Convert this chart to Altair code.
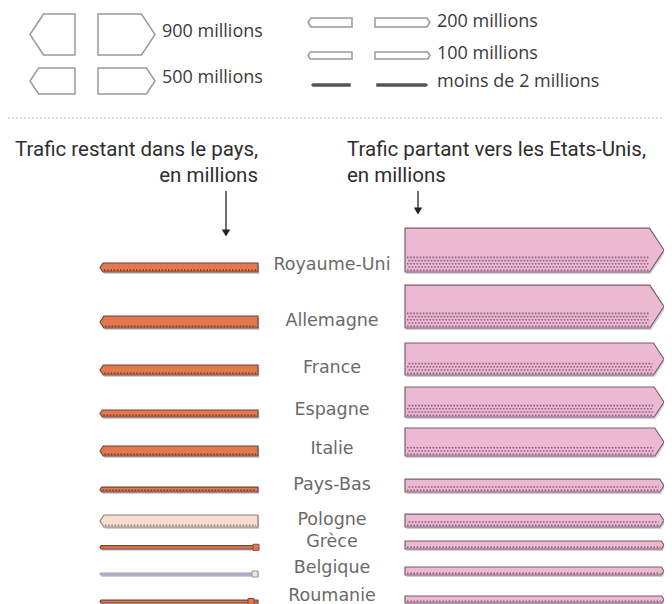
import altair as alt
import pandas as pd
import numpy as np

# ---------------- data (millions) ----------------
countries = ["Royaume-Uni", "Allemagne", "France", "Espagne", "Italie",
             "Pays-Bas", "Pologne", "Grèce", "Belgique", "Roumanie"]
domestic = [200, 253, 218, 100, 218, 60, 253, 30, 1, 20]     # trafic restant dans le pays
to_us = [980, 953, 660, 607, 553, 270, 270, 150, 150, 100]   # trafic partant vers les Etats-Unis

legend_values = [900, 500, 200, 100, 2]
legend_labels = ["900 millions", "500 millions", "200 millions", "100 millions", "moins de 2 millions"]

# ---------------- thickness scale (value -> px) ----------------
KEY_VALUES = [0, 2, 100, 200, 500, 900, 1200]
KEY_PX = [2, 2, 7, 9, 26, 41, 52]


def thick(v):
    return float(np.interp(v, KEY_VALUES, KEY_PX))


# ---------------- layout ----------------
ROW_BASE = [272, 328, 375, 417, 456, 492, 527, 549, 575, 603]
LEFT_X = (100, 258)
RIGHT_X = (405, 664)
LABEL_X = 332

PINK, PINK_EDGE, PINK_DOT = "#ecb9d3", "#7a5f6e", "#5e3a4e"
ORANGE, ORANGE_EDGE, ORANGE_DOT = "#e2784f", "#6f4536", "#4e2418"
LEFT_STYLE = {"Pologne": ("#f7ddcc", "#8a7f7c", "#7a6456"),
              "Belgique": ("#c4c0d6", "#9a97b2", "#9a97b2")}
SQUARES = {"Grèce": (256, ORANGE, "#8a4a3a"),
           "Belgique": (255, "#f3e6df", "#9a8f98"),
           "Roumanie": (251, ORANGE, "#8a4a3a")}


def arrow(gid, direction, x0, x1, top, bot, fill, stroke):
    t = bot - top
    tip = max(0.33 * t, 1.0)
    mid = (top + bot) / 2
    if direction == "right":
        pts = [(x0, top, bot), (x1 - tip, top, bot), (x1, mid, mid)]
    else:
        pts = [(x0, mid, mid), (x0 + tip, top, bot), (x1, top, bot)]
    return [dict(gid=gid, x=x, y=a, y2=b, fill=fill, stroke=stroke) for x, a, b in pts]


polys, shadows, dots, squares, labels = [], [], [], [], []
for i, c in enumerate(countries):
    base = ROW_BASE[i]
    # right arrow (to US)
    tr = thick(to_us[i])
    polys += arrow(f"r{i}", "right", RIGHT_X[0], RIGHT_X[1], base - tr, base, PINK, PINK_EDGE)
    for p in arrow(f"r{i}", "right", RIGHT_X[0], RIGHT_X[1], base - tr, base, "#9c93ab", "none"):
        p = dict(p); p["x"] += 1.2; p["y"] += 2; p["y2"] += 2
        shadows.append(p)
    tip = 0.33 * tr
    band = max(0.4 * tr, 2)
    k = 0
    while True:
        y = base - 1.8 - 3.2 * k
        if k > 0 and (y < base - band or y < base - tr + 1.5):
            break
        dots.append(dict(x=RIGHT_X[0] + 2, x2=RIGHT_X[1] - tip - 1, y=y, c=PINK_DOT, par=k % 2))
        k += 1
    # left arrow (domestic)
    tl = thick(domestic[i])
    fill, edge, dotc = LEFT_STYLE.get(c, (ORANGE, ORANGE_EDGE, ORANGE_DOT))
    polys += arrow(f"l{i}", "left", LEFT_X[0], LEFT_X[1], base - tl, base, fill, edge)
    for p in arrow(f"l{i}", "left", LEFT_X[0], LEFT_X[1], base - tl, base, "#8d92c2", "none"):
        p = dict(p); p["x"] += 1.2; p["y"] += 2; p["y2"] += 2
        shadows.append(p)
    if tl >= 4:
        dots.append(dict(x=LEFT_X[0] + 0.33 * tl + 1, x2=LEFT_X[1] - 2, y=base - 1.8, c=dotc, par=0))
    if c in SQUARES:
        sx, sf, ss = SQUARES[c]
        squares.append(dict(x=sx, y=base - tl / 2, f=sf, s=ss))
    labels.append(dict(x=LABEL_X, y=base - 7, text=c))

# legend shapes
LEG_LAYOUT = {900: (30, 75, 98, 155, 162, 34.5, 32),
              500: (30, 75, 98, 155, 162, 81, 78),
              200: (308, 352, 375, 430, 437, 22.5, 21.5),
              100: (308, 352, 375, 430, 437, 55.5, 53.5),
              2: (312, 350, 377, 427, 437, 85, 82)}
leg_polys, leg_text = [], []
for v, lab in zip(legend_values, legend_labels):
    lx0, lx1, rx0, rx1, tx, cy, ty = LEG_LAYOUT[v]
    t = thick(v)
    if v <= 2:
        fill, edge = "#555555", "#555555"
    else:
        fill, edge = "#ffffff", "#9a9a9a"
    leg_polys += arrow(f"gl{v}", "left", lx0, lx1, cy - t / 2, cy + t / 2, fill, edge)
    leg_polys += arrow(f"gr{v}", "right", rx0, rx1, cy - t / 2, cy + t / 2, fill, edge)
    leg_text.append(dict(x=tx, y=ty, text=lab))

poly_df = pd.DataFrame(polys)
shadow_df = pd.DataFrame(shadows)
dots_df = pd.DataFrame(dots)
sq_df = pd.DataFrame(squares)
lab_df = pd.DataFrame(labels)
leg_df = pd.DataFrame(leg_polys)
legt_df = pd.DataFrame(leg_text)

xs = alt.Scale(domain=[8, 664], nice=False, zero=False)
ys = alt.Scale(domain=[8, 604], nice=False, zero=False, reverse=True)


def X(f):
    return alt.X(f, type="quantitative", scale=xs, axis=None)


def Y(f):
    return alt.Y(f, type="quantitative", scale=ys, axis=None, stack=None)


def area_layer(df, **kw):
    return alt.Chart(df).mark_area(**kw).encode(
        x=X("x"), y=Y("y"), y2="y2",
        color=alt.Color("fill:N", scale=None),
        stroke=alt.Stroke("stroke:N", scale=None),
        detail="gid:N")


shadow_layer = alt.Chart(shadow_df).mark_area(opacity=0.45).encode(
    x=X("x"), y=Y("y"), y2="y2", color=alt.Color("fill:N", scale=None), detail="gid:N")
arrow_layer = area_layer(poly_df, strokeWidth=1.2, strokeJoin="miter")
legend_layer = area_layer(leg_df, strokeWidth=1.5, strokeJoin="miter")

dots_even = alt.Chart(dots_df[dots_df.par == 0]).mark_rule(
    strokeDash=[1.6, 1.6], strokeWidth=1.6, opacity=0.7).encode(
    x=X("x"), x2="x2", y=Y("y"), color=alt.Color("c:N", scale=None))
dots_odd = alt.Chart(dots_df[dots_df.par == 1]).mark_rule(
    strokeDash=[1.6, 1.6], strokeDashOffset=1.6, strokeWidth=1.6, opacity=0.7).encode(
    x=X("x"), x2="x2", y=Y("y"), color=alt.Color("c:N", scale=None))

sq_layer = alt.Chart(sq_df).mark_square(size=36, strokeWidth=1, opacity=1).encode(
    x=X("x"), y=Y("y"), fill=alt.Fill("f:N", scale=None), stroke=alt.Stroke("s:N", scale=None))

label_layer = alt.Chart(lab_df).mark_text(
    font="DejaVu Sans", fontSize=17.5, color="#6a6a6a", align="center", baseline="middle").encode(
    x=X("x"), y=Y("y"), text="text:N")

legt_layer = alt.Chart(legt_df).mark_text(
    font="Open Sans", fontSize=18, color="#3a3a3a", align="left", baseline="middle").encode(
    x=X("x"), y=Y("y"), text="text:N")

titles_left = pd.DataFrame({"x": [258, 258], "y": [150, 176],
                            "text": ["Trafic restant dans le pays,", "en millions"]})
titles_right = pd.DataFrame({"x": [347, 347], "y": [150, 176],
                             "text": ["Trafic partant vers les Etats-Unis,", "en millions"]})
tl_layer = alt.Chart(titles_left).mark_text(
    font="Roboto", fontSize=20.5, color="#2e2e2e", align="right", baseline="middle").encode(
    x=X("x"), y=Y("y"), text="text:N")
tr_layer = alt.Chart(titles_right).mark_text(
    font="Roboto", fontSize=20.5, color="#2e2e2e", align="left", baseline="middle").encode(
    x=X("x"), y=Y("y"), text="text:N")

pointer_lines = pd.DataFrame({"x": [226, 418], "y": [191, 191], "y2": [230, 208]})
pointer_heads = pd.DataFrame({"x": [226, 418], "y": [233, 211]})
pl_layer = alt.Chart(pointer_lines).mark_rule(color="#222222", strokeWidth=1.3).encode(
    x=X("x"), y=Y("y"), y2="y2")
ph_layer = alt.Chart(pointer_heads).mark_point(
    shape="triangle-down", size=70, filled=True, color="#222222", opacity=1).encode(
    x=X("x"), y=Y("y"))

sep = pd.DataFrame({"x": [8], "x2": [664], "y": [118]})
sep_layer = alt.Chart(sep).mark_rule(color="#b5b5b5", strokeDash=[2, 2], strokeWidth=1).encode(
    x=X("x"), x2="x2", y=Y("y"))

chart = alt.layer(
    sep_layer, legend_layer, legt_layer,
    tl_layer, tr_layer, pl_layer, ph_layer,
    shadow_layer, arrow_layer, dots_even, dots_odd, sq_layer, label_layer
).properties(
    width=656, height=596, padding=0,
    autosize=alt.AutoSizeParams(type="none")
).configure_view(stroke=None)

chart.save("out.html", embed_options={"renderer": "svg", "actions": False})
